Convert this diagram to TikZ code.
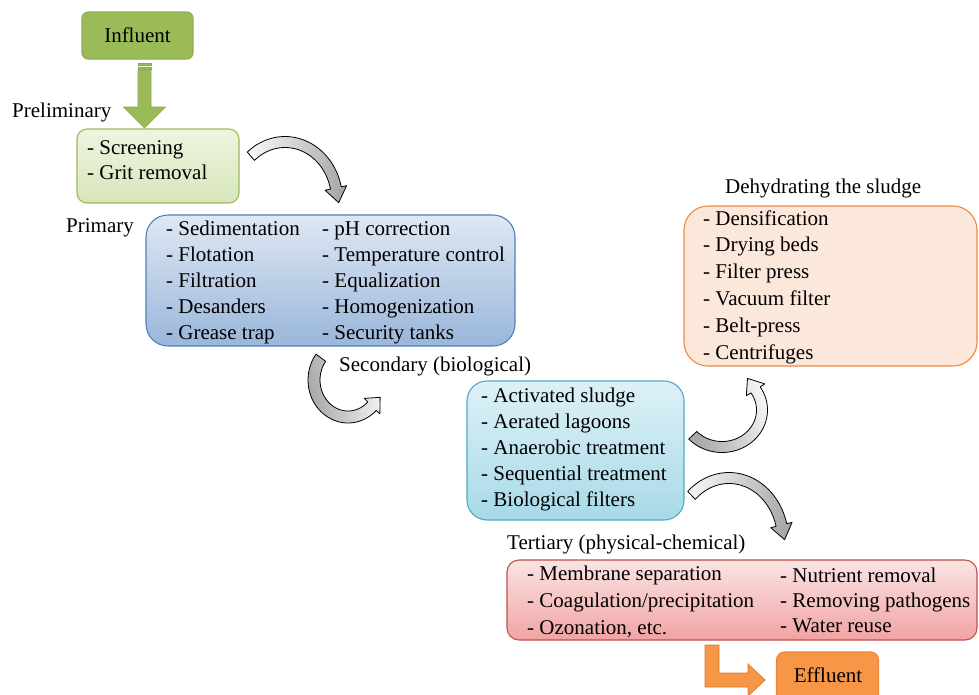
\documentclass[tikz,border=0pt]{standalone}
\usepackage{fontspec}
\setmainfont{Liberation Serif}
\definecolor{cGreen}{HTML}{9BBB59}
\definecolor{cGreenD}{HTML}{8AAA4E}
\definecolor{cPreTop}{HTML}{EEF5E0}
\definecolor{cPreBot}{HTML}{D6E5BA}
\definecolor{cPriTop}{HTML}{DFE8F4}
\definecolor{cPriBot}{HTML}{9AB6DA}
\definecolor{cPriLine}{HTML}{4F81BD}
\definecolor{cSecTop}{HTML}{DEF1F7}
\definecolor{cSecBot}{HTML}{A7D9E8}
\definecolor{cSecLine}{HTML}{4BACC6}
\definecolor{cDehFill}{HTML}{FCE8DA}
\definecolor{cDehLine}{HTML}{EC8A45}
\definecolor{cTerTop}{HTML}{FBE4E4}
\definecolor{cTerBot}{HTML}{F1A3A3}
\definecolor{cTerLine}{HTML}{C0504D}
\definecolor{cOrange}{HTML}{F79646}
\definecolor{cOrangeD}{HTML}{DD7C33}
\definecolor{cGrayL}{HTML}{F4F4F4}
\definecolor{cGrayD}{HTML}{A8A8A8}

\newcommand\bentarrow[9]{%
 \pgfmathsetmacro\bs{sign(#6-#5)}%
 \pgfmathsetmacro\bxA{#1+(#3+#8)*cos(#6)}\pgfmathsetmacro\byA{#2+(#4+#8)*sin(#6)}%
 \pgfmathsetmacro\bxB{#1+(#3-#8)*cos(#6)}\pgfmathsetmacro\byB{#2+(#4-#8)*sin(#6)}%
 \pgfmathsetmacro\bxM{#1+#3*cos(#6)}\pgfmathsetmacro\byM{#2+#4*sin(#6)}%
 \pgfmathsetmacro\btx{-\bs*#3*sin(#6)}\pgfmathsetmacro\bty{\bs*#4*cos(#6)}%
 \pgfmathsetmacro\btn{sqrt(\btx*\btx+\bty*\bty)}%
 \pgfmathsetmacro\bxT{\bxM+#9*\btx/\btn}\pgfmathsetmacro\byT{\byM+#9*\bty/\btn}%
 \path[curv] plot[domain=#5:#6,samples=40] ({#1+(#3+#7)*cos(\x)},{#2+(#4+#7)*sin(\x)})
   -- (\bxA,\byA) -- (\bxT,\byT) -- (\bxB,\byB)
   -- plot[domain=#6:#5,samples=40] ({#1+(#3-#7)*cos(\x)},{#2+(#4-#7)*sin(\x)}) -- cycle;%
}

\begin{document}
\begin{tikzpicture}[x=1pt,y=-1pt,
  every node/.style={font=\fontsize{21}{25}\selectfont},
  item/.style={anchor=west, inner sep=0pt, text height=14pt, text depth=0pt},
  box/.style={draw, line width=1.1pt, inner sep=0pt},
  curv/.style={draw=black, line width=0.8pt, line join=round},
]
\useasboundingbox (0,0) rectangle (979,694);
\fill[white] (0,0) rectangle (979,694);

% ---------- boxes ----------
\node[box, fill=cGreen, draw=cGreenD!70!cGreen, rounded corners=6pt,
      minimum width=111pt, minimum height=47pt] (influent) at (137.5,35.5) {Influent};
\node[box, draw=cGreen, top color=cPreTop, bottom color=cPreBot, rounded corners=10pt,
      minimum width=162pt, minimum height=74pt] (prelim) at (158,166) {};
\node[box, draw=cPriLine, top color=cPriTop, bottom color=cPriBot, rounded corners=22pt,
      minimum width=369pt, minimum height=131pt] (primary) at (330.5,280.5) {};
\node[box, draw=cSecLine, top color=cSecTop, bottom color=cSecBot, rounded corners=20pt,
      minimum width=217pt, minimum height=139pt] (second) at (575.5,450.5) {};
\node[box, draw=cDehLine, fill=cDehFill, rounded corners=24pt,
      minimum width=293pt, minimum height=160pt] (dehyd) at (830.5,286) {};
\node[box, draw=cTerLine, top color=cTerTop, bottom color=cTerBot, rounded corners=12pt,
      minimum width=470pt, minimum height=80pt] (tertiary) at (742,600) {};

% ---------- green down arrow ----------
\path[fill=cGreen, draw=cGreenD, line width=0.6pt]
  (138,63.5) rectangle (151,65.6)
  (138,66.8) rectangle (151,68.9);
\path[fill=cGreen, draw=cGreenD, line width=0.6pt]
  (138,70) -- (151,70) -- (151,107) -- (165.5,107) -- (144.5,128) -- (123.5,107) -- (138,107) -- cycle;

% ---------- orange L arrow and effluent ----------
\path[fill=cOrange, draw=cOrangeD, line width=0.8pt]
  (705,645) -- (719,645) -- (719,673) -- (748,673) -- (748,664) -- (765,680)
  -- (748,696) -- (748,687) -- (705,687) -- cycle;
\node[box, fill=cOrange, draw=cOrangeD!60!cOrange, rounded corners=8pt,
      minimum width=102pt, minimum height=50pt] (effluent) at (827.5,677) {};
\node[inner sep=0pt] (efftext) at (828,675) {Effluent};

% ---------- curved gray arrows ----------
\begin{scope}[curv/.append style={left color=cGrayL, right color=cGrayD, shading angle=80}]
  \bentarrow{285}{200}{52}{58}{229}{348}{5.5}{11}{15}
\end{scope}
\begin{scope}[curv/.append style={left color=cGrayD, right color=cGrayL, shading angle=100}]
  \bentarrow{348}{380}{34}{37}{217}{45}{6}{11}{12}
\end{scope}
\begin{scope}[curv/.append style={left color=cGrayD, right color=cGrayL, shading angle=110}]
  \bentarrow{722}{410}{40}{37}{137}{-33}{5.5}{11}{14}
\end{scope}
\begin{scope}[curv/.append style={left color=cGrayL, right color=cGrayD, shading angle=80}]
  \bentarrow{729}{540}{54}{62}{226}{346}{5.5}{11}{15}
\end{scope}

% ---------- stage labels ----------
\node[item] (lprelim) at (12,110) {Preliminary};
\node[item] (lprim) at (66,225) {Primary};
\node[item] (lsec) at (339,364) {Secondary (biological)};
\node[item] (ldeh) at (725,186) {Dehydrating the sludge};
\node[item] (lter) at (507,542) {Tertiary (physical-chemical)};

% ---------- box contents ----------
\node[item] (pre1) at (87,147) {- Screening};
\node[item] (pre2) at (87,172) {- Grit removal};

\foreach \t [count=\i] in {Sedimentation,Flotation,Filtration,Desanders,Grease trap}
  \node[item] (pril\i) at (166,{228+(\i-1)*26}) {- \t};
\foreach \t [count=\i] in {pH correction,Temperature control,Equalization,Homogenization,Security tanks}
  \node[item] (prir\i) at (322,{228+(\i-1)*26}) {- \t};

\foreach \t [count=\i] in {Activated sludge,Aerated lagoons,Anaerobic treatment,Sequential treatment,Biological filters}
  \node[item] (sec\i) at (481,{395+(\i-1)*26.2}) {- \t};

\foreach \t [count=\i] in {Densification,Drying beds,Filter press,Vacuum filter,Belt-press,Centrifuges}
  \node[item] (deh\i) at (703,{218+(\i-1)*26.8}) {- \t};

\foreach \t [count=\i] in {Membrane separation,Coagulation/precipitation,{Ozonation, etc.}}
  \node[item] (terl\i) at (527,{573+(\i-1)*27}) {- \t};
\foreach \t [count=\i] in {Nutrient removal,Removing pathogens,Water reuse}
  \node[item] (terr\i) at (780,{575+(\i-1)*25.3}) {- \t};
\end{tikzpicture}
\end{document}
